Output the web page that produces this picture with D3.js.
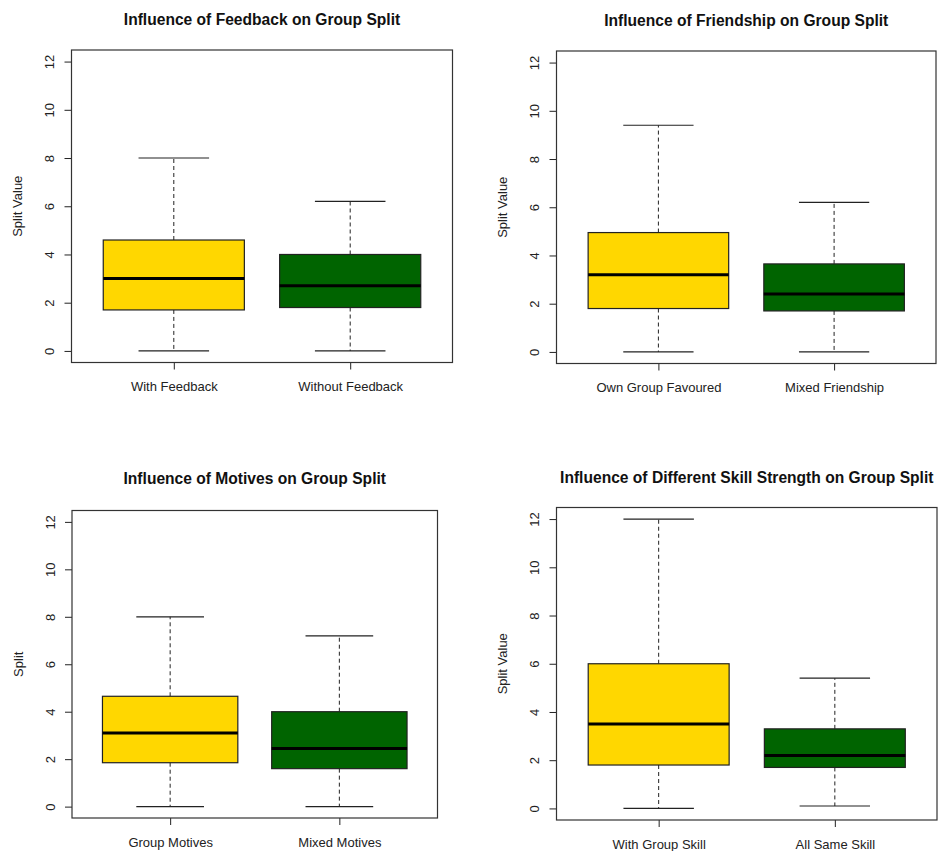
<!DOCTYPE html>
<html>
<head>
<meta charset="utf-8">
<script src="https://cdn.jsdelivr.net/npm/d3@7"></script>
<style>
  html, body { margin: 0; padding: 0; background: #fff; }
  svg { display: block; font-family: "Liberation Sans", Arial, sans-serif; }
</style>
</head>
<body>
<svg id="chart" width="938" height="851"></svg>
<script>
// Panel titles and axis labels
const panelTitles = [
  "Influence of Feedback on Group Split",
  "Influence of Friendship on Group Split",
  "Influence of Motives on Group Split",
  "Influence of Different Skill Strength on Group Split"
];
const yAxisLabels = ["Split Value", "Split Value", "Split", "Split Value"];
const categories = [
  ["With Feedback", "Without Feedback"],
  ["Own Group Favoured", "Mixed Friendship"],
  ["Group Motives", "Mixed Motives"],
  ["With Group Skill", "All Same Skill"]
];

// Five-number summaries per panel: [group 1, group 2]
const whiskerLow  = [[0, 0],     [0, 0],     [0, 0],     [0, 0.1]];
const lowerQuart  = [[1.7, 1.8], [1.8, 1.7], [1.85, 1.6], [1.8, 1.7]];
const medians     = [[3.0, 2.7], [3.2, 2.4], [3.1, 2.45], [3.5, 2.2]];
const upperQuart  = [[4.6, 4.0], [4.95, 3.65], [4.65, 4.0], [6.0, 3.3]];
const whiskerHigh = [[8.0, 6.2], [9.4, 6.2], [8.0, 7.2],  [12.0, 5.4]];

const yTicks = [0, 2, 4, 6, 8, 10, 12];
const boxFills = ["#FFD700", "#006400"];

// Plot regions for the 2x2 grid
const layout = [
  { left: 71.5,  right: 452.5, top: 50,    bottom: 362.5, titleY: 19 },
  { left: 556.5, right: 936,   top: 51,    bottom: 363.5, titleY: 20 },
  { left: 72,    right: 437.5, top: 510.5, bottom: 818,   titleY: 478 },
  { left: 556.5, right: 937,   top: 507.5, bottom: 820,   titleY: 477 }
];

const svg = d3.select("#chart");
const ink = "#222";

panelTitles.forEach((title, p) => {
  const L = layout[p];
  const g = svg.append("g");

  const y = d3.scaleLinear().domain([-0.48, 12.48]).range([L.bottom, L.top]);
  const x = d3.scaleLinear().domain([0.42, 2.58]).range([L.left, L.right]);
  const unit = x(1) - x(0);
  const boxHalf = 0.4 * unit;
  const capHalf = 0.2 * unit;

  // Title
  g.append("text")
    .attr("x", (L.left + L.right) / 2)
    .attr("y", L.titleY)
    .attr("text-anchor", "middle")
    .attr("dominant-baseline", "central")
    .attr("font-size", 15.6)
    .attr("font-weight", "bold")
    .attr("fill", "#111")
    .text(title);

  // Y axis
  const yAxis = g.append("g")
    .attr("transform", `translate(${L.left},0)`)
    .call(d3.axisLeft(y).tickValues(yTicks).tickSize(7).tickFormat(d3.format("d")));
  yAxis.select(".domain").remove();
  yAxis.selectAll(".tick line").attr("stroke", ink);
  yAxis.selectAll(".tick text")
    .attr("x", null).attr("dy", null)
    .attr("transform", "translate(-22,0) rotate(-90)")
    .attr("text-anchor", "middle")
    .attr("dominant-baseline", "central")
    .attr("font-size", 13)
    .attr("font-family", "Liberation Sans, Arial, sans-serif")
    .attr("fill", ink);

  // X axis
  const xAxis = g.append("g")
    .attr("transform", `translate(0,${L.bottom})`)
    .call(d3.axisBottom(x).tickValues([1, 2]).tickSize(7)
      .tickFormat((d, i) => categories[p][i]));
  xAxis.select(".domain").remove();
  xAxis.selectAll(".tick line").attr("stroke", ink);
  xAxis.selectAll(".tick text")
    .attr("y", 24).attr("dy", null)
    .attr("dominant-baseline", "central")
    .attr("font-size", 13)
    .attr("font-family", "Liberation Sans, Arial, sans-serif")
    .attr("fill", ink);

  // Y axis title
  g.append("text")
    .attr("transform", `translate(${L.left - 54},${(L.top + L.bottom) / 2}) rotate(-90)`)
    .attr("text-anchor", "middle")
    .attr("dominant-baseline", "central")
    .attr("font-size", 13)
    .attr("fill", ink)
    .text(yAxisLabels[p]);

  // Boxes
  const groups = [0, 1].map(i => ({
    pos: i + 1,
    lo: whiskerLow[p][i], q1: lowerQuart[p][i], med: medians[p][i],
    q3: upperQuart[p][i], hi: whiskerHigh[p][i], fill: boxFills[i]
  }));

  const bx = g.selectAll(".bx").data(groups).enter().append("g").attr("class", "bx");

  // dashed whiskers
  bx.append("line")
    .attr("x1", d => x(d.pos)).attr("x2", d => x(d.pos))
    .attr("y1", d => y(d.q3)).attr("y2", d => y(d.hi))
    .attr("stroke", ink).attr("stroke-width", 1).attr("stroke-dasharray", "4,3");
  bx.append("line")
    .attr("x1", d => x(d.pos)).attr("x2", d => x(d.pos))
    .attr("y1", d => y(d.q1)).attr("y2", d => y(d.lo))
    .attr("stroke", ink).attr("stroke-width", 1).attr("stroke-dasharray", "4,3");

  // staples
  bx.append("line")
    .attr("x1", d => x(d.pos) - capHalf).attr("x2", d => x(d.pos) + capHalf)
    .attr("y1", d => y(d.hi)).attr("y2", d => y(d.hi))
    .attr("stroke", ink).attr("stroke-width", 1.2);
  bx.append("line")
    .attr("x1", d => x(d.pos) - capHalf).attr("x2", d => x(d.pos) + capHalf)
    .attr("y1", d => y(d.lo)).attr("y2", d => y(d.lo))
    .attr("stroke", ink).attr("stroke-width", 1.2);

  // box body
  bx.append("rect")
    .attr("x", d => x(d.pos) - boxHalf)
    .attr("width", 2 * boxHalf)
    .attr("y", d => y(d.q3))
    .attr("height", d => y(d.q1) - y(d.q3))
    .attr("fill", d => d.fill)
    .attr("stroke", ink).attr("stroke-width", 1.2);

  // median
  bx.append("line")
    .attr("x1", d => x(d.pos) - boxHalf).attr("x2", d => x(d.pos) + boxHalf)
    .attr("y1", d => y(d.med)).attr("y2", d => y(d.med))
    .attr("stroke", "#000").attr("stroke-width", 3);

  // Plot frame
  g.append("rect")
    .attr("x", L.left).attr("y", L.top)
    .attr("width", L.right - L.left).attr("height", L.bottom - L.top)
    .attr("fill", "none").attr("stroke", "#333").attr("stroke-width", 1.2);
});
</script>
</body>
</html>
